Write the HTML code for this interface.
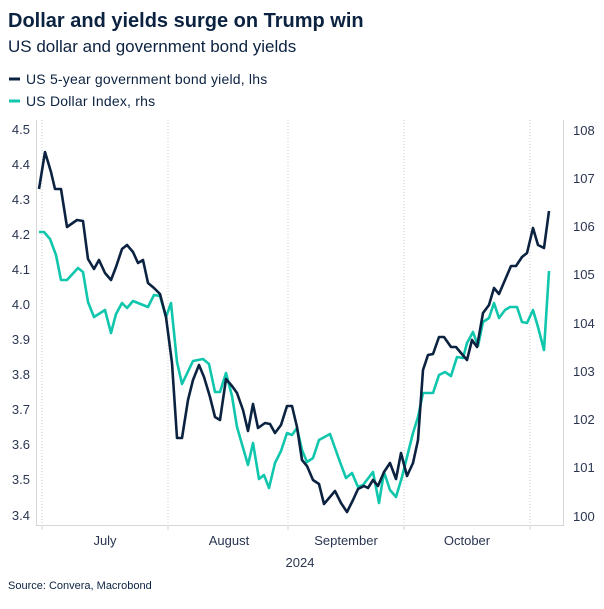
<!DOCTYPE html>
<html><head><meta charset="utf-8"><style>
body{margin:0;background:#fff;font-family:"Liberation Sans","DejaVu Sans",sans-serif;}
</style></head><body>
<svg width="604" height="604" xmlns="http://www.w3.org/2000/svg" font-family="Liberation Sans, DejaVu Sans, sans-serif">
<text x="8" y="27" font-size="20" font-weight="bold" fill="#0b2240">Dollar and yields surge on Trump win</text>
<text x="8" y="52" font-size="17" fill="#0b2240">US dollar and government bond yields</text>
<line x1="9" y1="79" x2="20" y2="79" stroke="#0b2240" stroke-width="3"/>
<text x="26" y="84" font-size="14" letter-spacing="0.2" fill="#0b2240">US 5-year government bond yield, lhs</text>
<line x1="9" y1="101" x2="20" y2="101" stroke="#10c6ac" stroke-width="3"/>
<text x="26" y="106" font-size="14" letter-spacing="0.2" fill="#0b2240">US Dollar Index, rhs</text>
<g stroke="#ccc" stroke-dasharray="1,2" stroke-width="1">
<line x1="42" y1="120" x2="42" y2="525"/><line x1="168" y1="120" x2="168" y2="525"/><line x1="288" y1="120" x2="288" y2="525"/><line x1="404" y1="120" x2="404" y2="525"/><line x1="530" y1="120" x2="530" y2="525"/>
</g>
<g stroke="#d6d6d6" stroke-width="1">
<line x1="36.5" y1="120" x2="36.5" y2="525"/><line x1="563.5" y1="120" x2="563.5" y2="525"/><line x1="36" y1="525.5" x2="564" y2="525.5"/>
<line x1="42" y1="525" x2="42" y2="530"/><line x1="168" y1="525" x2="168" y2="530"/><line x1="288" y1="525" x2="288" y2="530"/><line x1="404" y1="525" x2="404" y2="530"/><line x1="530" y1="525" x2="530" y2="530"/>
</g>
<g font-size="13" fill="#2a3550" text-anchor="end">
<text x="30" y="134">4.5</text><text x="30" y="169">4.4</text><text x="30" y="204">4.3</text><text x="30" y="239">4.2</text><text x="30" y="274">4.1</text><text x="30" y="309">4.0</text><text x="30" y="344">3.9</text><text x="30" y="379">3.8</text><text x="30" y="414">3.7</text><text x="30" y="449">3.6</text><text x="30" y="484">3.5</text><text x="30" y="520">3.4</text>
</g>
<g font-size="13" fill="#2a3550">
<text x="573" y="135">108</text><text x="573" y="183">107</text><text x="573" y="231">106</text><text x="573" y="279">105</text><text x="573" y="328">104</text><text x="573" y="376">103</text><text x="573" y="424">102</text><text x="573" y="472">101</text><text x="573" y="521">100</text>
</g>
<g font-size="13" fill="#2a3550" text-anchor="middle">
<text x="105" y="545">July</text><text x="229" y="545">August</text><text x="346" y="545">September</text><text x="467" y="545">October</text><text x="300" y="567">2024</text>
</g>
<text x="8" y="589" font-size="11" fill="#0b2240">Source: Convera, Macrobond</text>
<polyline fill="none" stroke="#10c6ac" stroke-width="2.6" stroke-linejoin="round" points="39,232 44,232 50,239 56,255 61,280 67,280 78,268 83,272 88,302 94,317 105,310 111,333 116,314 122,303 127,308 133,301 148,307 154,295 160,296 166,317 171,303 177,362 182,384 193,361 203,359 209,364 215,392 220,392 226,373 232,396 237,427 248,465 253,443 259,479 264,475 269,488 275,463 281,451 287,433 292,435 297,428 302,450 307,462 313,458 319,440 330,434 340,462 346,478 352,473 358,487 363,485 373,472 379,503 384,472 390,490 396,497 402,477 407,457 413,433 418,417 423,393 433,393 439,375 445,372 451,376 457,357 463,358 467,343 473,332 478,346 483,322 489,318 494,303 499,318 505,310 510,307 517,307 522,322 527,323 533,310 538,327 544,350 549,271"/>
<polyline fill="none" stroke="#0b2240" stroke-width="2.6" stroke-linejoin="round" points="39,189 45,152 51,172 55,189 61,189 67,227 77,220 83,221 88,259 94,269 99,260 105,273 111,280 116,267 122,249 127,245 133,252 138,263 143,260 148,283 154,288 160,294 166,317 172,363 177,438 182,438 188,400 193,380 199,365 204,377 210,397 215,417 220,420 226,379 232,386 237,393 243,410 248,431 253,404 258,428 265,423 270,424 275,433 281,425 287,406 292,406 297,427 302,460 307,466 313,480 319,484 324,504 335,491 341,503 347,512 353,500 358,489 364,486 368,488 373,480 378,486 384,472 390,463 396,479 401,453 407,476 413,463 418,440 423,370 428,355 433,354 439,337 444,337 451,347 456,347 461,353 467,360 472,340 477,347 483,313 489,305 494,288 499,294 505,280 511,266 516,266 522,257 527,253 533,228 538,245 544,248 549,211"/>
</svg>
</body></html>
